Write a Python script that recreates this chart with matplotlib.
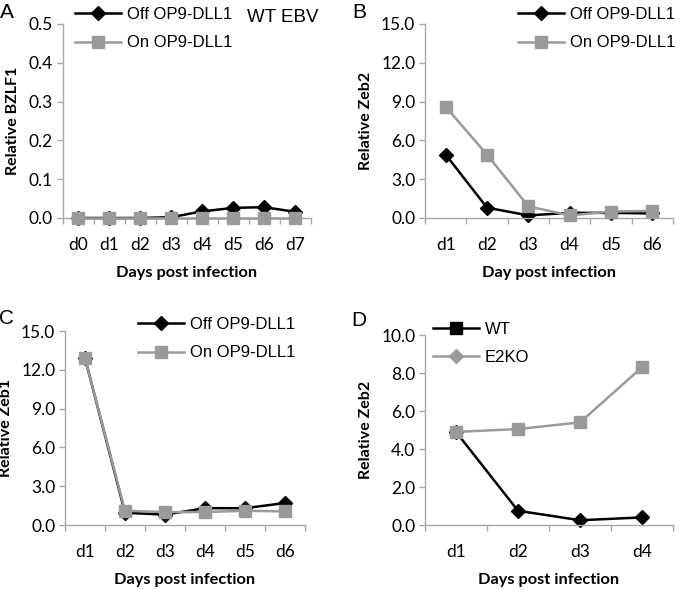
import matplotlib
matplotlib.use("Agg")
from matplotlib import pyplot as plt
from matplotlib.lines import Line2D
from matplotlib.ticker import FormatStrFormatter, FixedLocator

# panel A - BZLF1
days_a = ["d0", "d1", "d2", "d3", "d4", "d5", "d6", "d7"]
bzlf1_off = [0.0, 0.0, 0.0, 0.002, 0.017, 0.026, 0.028, 0.016]
bzlf1_on = [0.0, 0.0, 0.0, 0.0, 0.0, 0.0, 0.0, 0.0]

# panel B - Zeb2
days_b = ["d1", "d2", "d3", "d4", "d5", "d6"]
zeb2_off = [4.9, 0.8, 0.2, 0.4, 0.4, 0.35]
zeb2_on = [8.6, 4.9, 0.9, 0.2, 0.5, 0.55]

# panel C - Zeb1
days_c = ["d1", "d2", "d3", "d4", "d5", "d6"]
zeb1_off = [12.9, 0.95, 0.8, 1.3, 1.3, 1.7]
zeb1_on = [12.9, 1.1, 1.0, 1.0, 1.1, 1.05]

# panel D - Zeb2, WT vs E2KO
days_d = ["d1", "d2", "d3", "d4"]
zeb2_wt = [4.9, 0.75, 0.25, 0.4]
zeb2_e2ko = [4.9, 5.05, 5.4, 8.3]

W, H = 680, 590
BLACK = "#000000"
GRAY = "#9a9a9a"
AXIS = "#a8a8a8"
TICKFONT = "Lato"
LABELFONT = "Lato"
LEGFONT = "Liberation Sans"

fig = plt.figure(figsize=(W / 100, H / 100), dpi=100)


def px_axes(left, top, right, bottom):
    return fig.add_axes([left / W, 1 - bottom / H, (right - left) / W, (bottom - top) / H])


def style_axes(ax, cats, ymax, ystep, ylabel, xlabel):
    n = len(cats)
    ax.set_xlim(-0.5, n - 0.5)
    ax.set_ylim(0, ymax)
    for s in ["top", "right"]:
        ax.spines[s].set_visible(False)
    for s in ["left", "bottom"]:
        ax.spines[s].set_color(AXIS)
        ax.spines[s].set_linewidth(1.0)
    ax.set_xticks(range(n))
    ax.set_xticklabels(cats, fontfamily=TICKFONT, fontsize=12.5)
    ax.xaxis.set_minor_locator(FixedLocator([i - 0.5 for i in range(n + 1)]))
    ax.tick_params(axis="x", which="major", length=0, pad=14)
    ax.tick_params(axis="x", which="minor", length=4, color=AXIS, width=1.0)
    yt = [i * ystep for i in range(int(round(ymax / ystep)) + 1)]
    ax.set_yticks(yt)
    ax.yaxis.set_major_formatter(FormatStrFormatter("%.1f"))
    ax.tick_params(axis="y", length=4, color=AXIS, width=1.0, pad=3)
    for lab in ax.get_yticklabels():
        lab.set_fontfamily(TICKFONT)
        lab.set_fontsize(12.5)
    ax.set_ylabel(ylabel, fontfamily=LABELFONT, fontweight="bold", fontsize=11.5, labelpad=6)
    ax.set_xlabel(xlabel, fontfamily=LABELFONT, fontweight="bold", fontsize=11.8, labelpad=9)


def add_legend(ax, handles, labels, x, y):
    ax.legend(handles, labels, loc="upper left", bbox_to_anchor=(x / W, 1 - y / H),
              bbox_transform=fig.transFigure, frameon=False, borderpad=0, borderaxespad=0,
              handlelength=2.75, handletextpad=0.35, labelspacing=0.8,
              prop={"family": LEGFONT, "size": 12})


def off_line(ax, vals, z=2):
    return ax.plot(range(len(vals)), vals, color=BLACK, lw=1.8, marker="D", ms=7.5,
                   mfc=BLACK, mec=BLACK, zorder=z, clip_on=False)[0]


def on_line(ax, vals, z=3):
    return ax.plot(range(len(vals)), vals, color=GRAY, lw=1.8, marker="s", ms=8,
                   mfc=GRAY, mec=GRAY, zorder=z, clip_on=False)[0]


# A
ax_a = px_axes(62.5, 24, 310.5, 218)
h1 = off_line(ax_a, bzlf1_off)
h2 = on_line(ax_a, bzlf1_on)
style_axes(ax_a, days_a, 0.5, 0.1, "Relative BZLF1", "Days post infection")
add_legend(ax_a, [h1, h2], ["Off OP9-DLL1", "On OP9-DLL1"], 75, 7)
fig.text(247 / W, 1 - 18 / H, "WT EBV", fontfamily=LEGFONT, fontsize=13.5, va="center")

# B
ax_b = px_axes(425, 24, 673, 218)
h1 = off_line(ax_b, zeb2_off)
h2 = on_line(ax_b, zeb2_on)
style_axes(ax_b, days_b, 15, 3, "Relative Zeb2", "Day post infection")
add_legend(ax_b, [h1, h2], ["Off OP9-DLL1", "On OP9-DLL1"], 518, 7)

# C
ax_c = px_axes(65, 331, 305, 525)
h1 = off_line(ax_c, zeb1_off)
h2 = on_line(ax_c, zeb1_on)
style_axes(ax_c, days_c, 15, 3, "Relative Zeb1", "Days post infection")
add_legend(ax_c, [h1, h2], ["Off OP9-DLL1", "On OP9-DLL1"], 138, 317)

# D
ax_d = px_axes(425, 335, 673, 525)
off_line(ax_d, zeb2_wt)
on_line(ax_d, zeb2_e2ko)
style_axes(ax_d, days_d, 10, 2, "Relative Zeb2", "Days post infection")
leg_wt = Line2D([], [], color=BLACK, lw=1.8, marker="s", ms=8, mfc=BLACK, mec=BLACK)
leg_ko = Line2D([], [], color=GRAY, lw=1.8, marker="D", ms=7.5, mfc=GRAY, mec=GRAY)
add_legend(ax_d, [leg_wt, leg_ko], ["WT", "E2KO"], 433, 322)

# panel letters
for letter, x, y in [("A", 7, 12), ("B", 359, 12), ("C", 7, 318), ("D", 359, 320)]:
    fig.text(x / W, 1 - y / H, letter, fontfamily=LEGFONT, fontsize=15, ha="center", va="center")

fig.savefig("out.png", dpi=100)
